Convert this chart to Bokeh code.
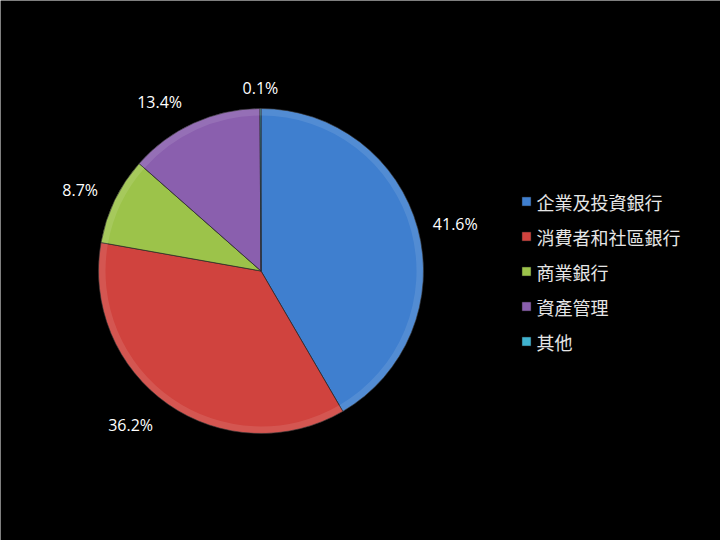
import math
from bokeh.plotting import figure
from bokeh.models import Range1d, ColumnDataSource
from bokeh.core.properties import value
from bokeh.embed import file_html
from bokeh.resources import INLINE

# ---- data ----
categories = ["企業及投資銀行", "消費者和社區銀行", "商業銀行", "資產管理", "其他"]
shares = [41.6, 36.2, 8.7, 13.4, 0.1]
labels = ["41.6%", "36.2%", "8.7%", "13.4%", "0.1%"]
colors = ["#3f7fcf", "#d0433e", "#9cc34a", "#8a5fae", "#3fb3cf"]

# ---- layout (styles / positions) ----
W, H = 720, 540
CX, CY = 260.5, H - 270.5
R = 162.5
label_r = [200, 202, 198, 197, 183]
label_shift_deg = [-1.4, -5.3, 1.7, 6.5, 0.0]
LEG_X, LEG_Y0, LEG_DY = 526, H - 201, 35

total = sum(shares)
starts, ends, mids = [], [], []
a = math.pi / 2
for s in shares:
    sweep = 2 * math.pi * s / total
    starts.append(a - sweep)
    ends.append(a)
    mids.append(a - sweep / 2)
    a -= sweep

p = figure(width=W, height=H, x_range=Range1d(0, W), y_range=Range1d(0, H),
           output_backend="svg", toolbar_location=None, min_border=0,
           background_fill_color="black", border_fill_color="black",
           outline_line_color=None)
p.axis.visible = False
p.grid.visible = False

src = ColumnDataSource(dict(start=starts, end=ends, color=colors,
                            x=[CX] * len(shares), y=[CY] * len(shares)))
p.wedge(x="x", y="y", radius=R, radius_units="screen", start_angle="start",
        end_angle="end", fill_color="color", line_color="#2a2a2a",
        line_width=1, line_alpha=0.7, source=src)
# subtle bevel highlight near the rim
p.annular_wedge(x="x", y="y", inner_radius=R - 7, outer_radius=R, inner_radius_units="screen",
                outer_radius_units="screen", start_angle="start", end_angle="end",
                fill_color="white", fill_alpha=0.10, line_color=None, source=src)

ang = [m + math.radians(d) for m, d in zip(mids, label_shift_deg)]
lx = [CX + r * math.cos(t) for r, t in zip(label_r, ang)]
ly = [CY + r * math.sin(t) for r, t in zip(label_r, ang)]
p.text(x=lx, y=ly, text=labels, text_color="white", text_font=value("Open Sans"),
       text_font_size="16px", text_align="center", text_baseline="middle")

# legend
leg_y = [LEG_Y0 - i * LEG_DY for i in range(len(categories))]
p.scatter(x=[LEG_X] * len(categories), y=leg_y, marker="square", size=9,
          fill_color=colors, line_color="#222222", line_width=0.5)
p.text(x=[LEG_X + 10] * len(categories), y=leg_y, text=categories, text_color="#e6e6e6",
       text_font=value("Noto Sans CJK TC"), text_font_size="18px",
       text_align="left", text_baseline="middle")

open("out.html", "w").write(file_html(p, INLINE))
